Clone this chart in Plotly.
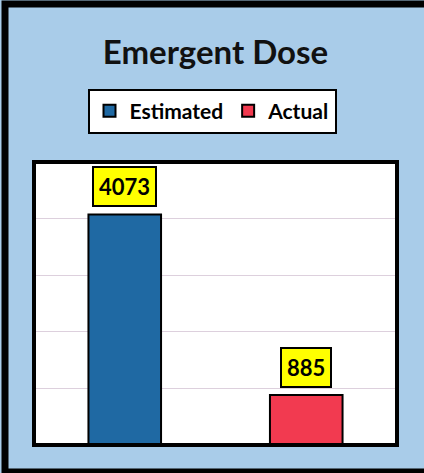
import plotly.graph_objects as go

# data
categories = ["Estimated", "Actual"]
values = [4073, 885]
colors = ["#1f69a3", "#f23a50"]

W, H = 424, 473
L, R, T, B = 34, 27, 162, 28

fig = go.Figure()
for cat, val, col in zip(categories, values, colors):
    fig.add_trace(go.Bar(
        x=[cat], y=[val], name=cat, width=0.4,
        marker=dict(color=col, line=dict(color="black", width=2)),
    ))
    fig.add_annotation(
        x=cat, y=val, text=f"<b>{val}</b>", showarrow=False,
        yanchor="bottom", yshift=7,
        font=dict(family="Lato", size=22, color="black"),
        bgcolor="#ffff00", bordercolor="black", borderwidth=2, borderpad=5,
    )

pw = W - L - R
ph = H - T - B
def px_x(p):
    return (p - L) / pw
def px_y(p):
    return 1 - (p - T) / ph

shapes = [
    # plot area frame
    dict(type="rect", xref="paper", yref="paper", x0=0, x1=1, y0=0, y1=1,
         line=dict(color="black", width=4), layer="above"),
    # outer frame (right side runs off the picture)
    dict(type="rect", xref="paper", yref="paper",
         x0=px_x(5), x1=px_x(470), y0=px_y(472), y1=px_y(4),
         line=dict(color="black", width=7), layer="below"),
]

fig.update_layout(
    width=W, height=H,
    margin=dict(l=L, r=R, t=T, b=B),
    paper_bgcolor="#a9cce9",
    plot_bgcolor="white",
    barmode="overlay",
    title=dict(text="<b>Emergent Dose</b>", x=0.5, xanchor="center",
               xref="paper", y=1 - 52 / H, yanchor="middle", yref="container",
               font=dict(family="Lato", size=33, color="#111111")),
    legend=dict(orientation="h", x=0.5, xanchor="center", xref="container",
                y=1 - 111 / H, yanchor="middle", yref="container",
                bgcolor="white", bordercolor="black", borderwidth=2,
                font=dict(family="Lato", size=21, color="black", weight="bold"),
                itemwidth=30, traceorder="normal"),
    xaxis=dict(showticklabels=False, showgrid=False, zeroline=False, ticks=""),
    yaxis=dict(range=[0, 5000], dtick=1000, showticklabels=False,
               gridcolor="#ddd0dd", gridwidth=1, zeroline=False, ticks=""),
    shapes=shapes,
    showlegend=True,
)

fig.write_html("out.html", config={"displayModeBar": False},
               post_script="document.body.style.margin='0';")
